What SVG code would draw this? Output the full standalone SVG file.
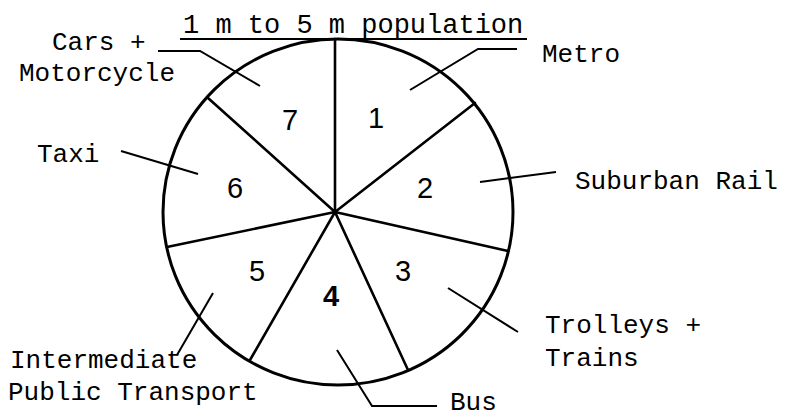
<svg xmlns="http://www.w3.org/2000/svg" width="785" height="418" viewBox="0 0 785 418">
<style>
.lbl{font-family:"Liberation Mono","Courier New",monospace;font-size:26px;fill:#000}
.num{font-family:"Liberation Sans",Arial,sans-serif;font-size:29px;fill:#000;text-anchor:middle}
.spoke{stroke:#000;stroke-width:2.6;fill:none;stroke-linecap:round}
.leader{stroke:#000;stroke-width:2;fill:none}
</style>
<rect width="785" height="418" fill="#fff"/>
<g id="title">
<text class="lbl" x="183" y="33" style="font-size:27px">1 m to 5 m population</text>
<line x1="180" y1="39" x2="527" y2="39" stroke="#000" stroke-width="2"/>
</g>
<g id="pie">
<ellipse cx="338" cy="212" rx="175" ry="173" fill="none" stroke="#000" stroke-width="3"/>
<line class="spoke" x1="335" y1="212" x2="335" y2="39" stroke-width="3.4"/>
<line class="spoke" x1="335" y1="212" x2="475" y2="103"/>
<line class="spoke" x1="335" y1="212" x2="508" y2="251"/>
<line class="spoke" x1="335" y1="212" x2="408" y2="370"/>
<line class="spoke" x1="335" y1="212" x2="250" y2="360"/>
<line class="spoke" x1="335" y1="212" x2="167" y2="247"/>
<line class="spoke" x1="335" y1="212" x2="208" y2="98"/>
</g>
<g id="seg1"><text class="num" x="376" y="128">1</text><text class="lbl" x="542" y="62">Metro</text></g>
<g id="seg2"><text class="num" x="425" y="198">2</text><text class="lbl" x="575" y="189">Suburban Rail</text></g>
<g id="seg3"><text class="num" x="403" y="281">3</text><text class="lbl" x="545" y="333">Trolleys +</text><text class="lbl" x="545" y="366">Trains</text></g>
<g id="seg4"><text class="num" x="331" y="306" font-weight="bold">4</text><text class="lbl" x="450" y="410">Bus</text></g>
<g id="seg5"><text class="num" x="257" y="281">5</text><text class="lbl" x="10" y="368">Intermediate</text><text class="lbl" x="8" y="400">Public Transport</text></g>
<g id="seg6"><text class="num" x="235" y="198">6</text><text class="lbl" x="37" y="162">Taxi</text></g>
<g id="seg7"><text class="num" x="290" y="130">7</text><text class="lbl" x="52" y="50">Cars +</text><text class="lbl" x="19" y="81">Motorcycle</text></g>
<g id="connectors">
<polyline class="leader" points="158,51 200,51 260,86"/>
<polyline class="leader" points="517,49 478,49 410,90"/>
<line class="leader" x1="121" y1="151" x2="198" y2="174"/>
<line class="leader" x1="480" y1="182" x2="556" y2="172"/>
<line class="leader" x1="448" y1="288" x2="518" y2="332"/>
<polyline class="leader" points="337,350 372,406 437,406"/>
<line class="leader" x1="213" y1="293" x2="177" y2="355"/>
</g>
</svg>
